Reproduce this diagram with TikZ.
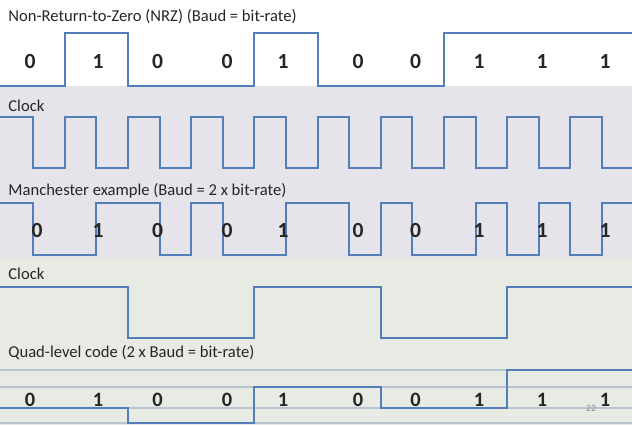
\documentclass[tikz,border=0pt]{standalone}
\usepackage{fontspec}
\setmainfont{Carlito}
\usepackage{xcolor}
\definecolor{sigblue}{RGB}{84,126,186}
\definecolor{reflvl}{RGB}{184,196,208}
\definecolor{bandlav}{RGB}{230,228,235}
\definecolor{bandgrn}{RGB}{232,234,228}
\definecolor{txtgray}{RGB}{38,38,38}

\begin{document}
\begin{tikzpicture}[
  x=0.5pt, y=-0.5pt,
  sig/.style={draw=sigblue, line width=1pt, line join=miter},
  lvl/.style={draw=reflvl, line width=0.8pt},
  title/.style={anchor=base west, inner sep=0pt, font=\fontsize{8.3}{9.5}\selectfont, text=txtgray},
  bit/.style={anchor=base, inner sep=0pt, font=\fontsize{10.8}{12}\selectfont\bfseries, text=txtgray},
]
  \useasboundingbox (0,0) rectangle (632,425);

  % background bands
  \fill[white] (0,0) rectangle (632,86);
  \fill[bandlav] (0,86) rectangle (632,258);
  \fill[bandgrn] (0,258) rectangle (632,425);

  % titles
  \node[title] (nrz)  at (8,21)  {Non-Return-to-Zero (NRZ) (Baud = bit-rate)};
  \node[title] (clka) at (8,111) {Clock};
  \node[title] (man)  at (8,195) {Manchester example (Baud = 2 x bit-rate)};
  \node[title] (clkb) at (8,279) {Clock};
  \node[title] (quad) at (8,357) {Quad-level code (2 x Baud = bit-rate)};

  % NRZ
  \draw[sig] (0,86) -- (64.7,86) -- (64.7,33) -- (127.9,33) -- (127.9,86)
    -- (254.3,86) -- (254.3,33) -- (317.5,33) -- (317.5,86)
    -- (443.9,86) -- (443.9,33) -- (632,33);

  % clock, one cycle per bit
  \draw[sig] (0,117) -- (33.1,117) -- (33.1,168) -- (64.7,168)
    -- (64.7,117) -- (96.3,117) -- (96.3,168) -- (127.9,168)
    -- (127.9,117) -- (159.5,117) -- (159.5,168) -- (191.1,168)
    -- (191.1,117) -- (222.7,117) -- (222.7,168) -- (254.3,168)
    -- (254.3,117) -- (285.9,117) -- (285.9,168) -- (317.5,168)
    -- (317.5,117) -- (349.1,117) -- (349.1,168) -- (380.7,168)
    -- (380.7,117) -- (412.3,117) -- (412.3,168) -- (443.9,168)
    -- (443.9,117) -- (475.5,117) -- (475.5,168) -- (507.1,168)
    -- (507.1,117) -- (538.7,117) -- (538.7,168) -- (570.3,168)
    -- (570.3,117) -- (601.9,117) -- (601.9,168) -- (632,168);

  % Manchester
  \draw[sig] (0,203) -- (33.1,203) -- (33.1,255) -- (96.3,255)
    -- (96.3,203) -- (159.5,203) -- (159.5,255) -- (191.1,255)
    -- (191.1,203) -- (222.7,203) -- (222.7,255) -- (285.9,255)
    -- (285.9,203) -- (349.1,203) -- (349.1,255) -- (380.7,255)
    -- (380.7,203) -- (412.3,203) -- (412.3,255) -- (475.5,255)
    -- (475.5,203) -- (507.1,203) -- (507.1,255) -- (538.7,255)
    -- (538.7,203) -- (570.3,203) -- (570.3,255) -- (601.9,255)
    -- (601.9,203) -- (632,203);

  % clock, one cycle per four bits
  \draw[sig] (0,287) -- (127.9,287) -- (127.9,338) -- (254.3,338)
    -- (254.3,287) -- (380.7,287) -- (380.7,338) -- (507.1,338)
    -- (507.1,287) -- (632,287);

  % quad-level reference lines and signal
  \draw[lvl] (0,370) -- (632,370);
  \draw[lvl] (0,387) -- (632,387);
  \draw[lvl] (0,408) -- (632,408);
  \draw[lvl] (0,423) -- (632,423);
  \draw[sig] (0,408) -- (127.9,408) -- (127.9,423) -- (254.3,423)
    -- (254.3,387) -- (380.7,387) -- (380.7,408) -- (507.1,408)
    -- (507.1,370) -- (632,370);

  % bit values
  \foreach \x/\b [count=\i] in {30/0,98/1,157.5/0,227/0,283/1,358/0,415.5/0,479/1,542/1,605/1}
    \node[bit] (nrzb\i) at (\x,68) {\b};
  \foreach \x/\b [count=\i] in {37/0,98/1,157.5/0,227/0,283/1,358/0,415.5/0,479/1,542/1,605/1}
    \node[bit] (manb\i) at (\x,237) {\b};
  \foreach \x/\b [count=\i] in {30/0,98/1,157.5/0,227/0,283/1,358/0,415.5/0,479/1,542/1,605/1}
    \node[bit, font=\fontsize{10.2}{11}\selectfont\bfseries] (quadb\i) at (\x,406) {\b};

  \node[anchor=base, inner sep=0pt, font=\fontsize{4.8}{6}\selectfont, text=black!45] (page) at (591,411) {22};
\end{tikzpicture}
\end{document}
